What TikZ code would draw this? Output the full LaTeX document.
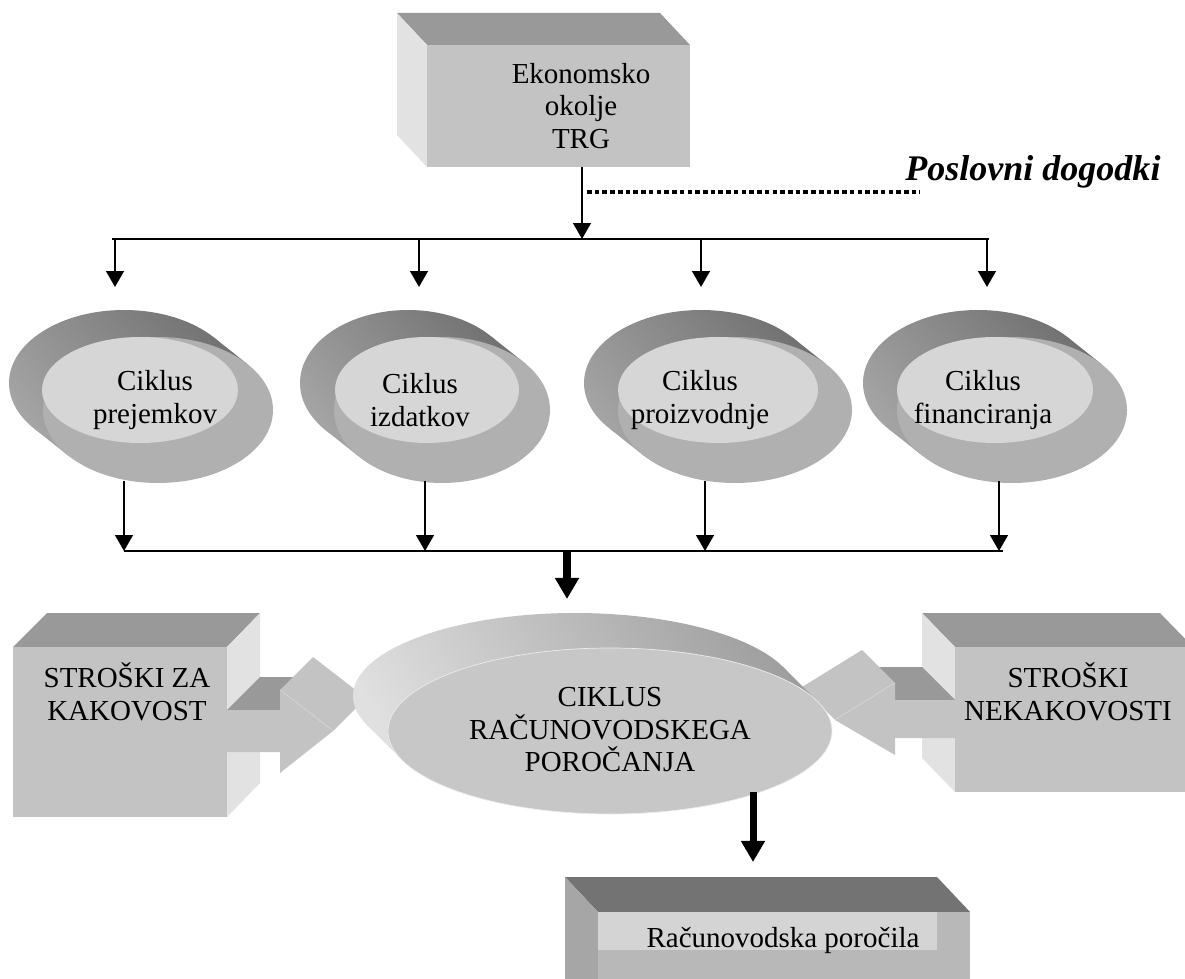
\documentclass[tikz,border=0pt]{standalone}
\usepackage{fontspec}
\setmainfont{Liberation Serif}
\usetikzlibrary{arrows.meta}

\tikzset{
  lbl/.style={align=center, inner sep=0pt, font=\fontsize{16.5}{18.5}\selectfont},
  conn/.style={line width=1.2pt, -{Triangle[width=10pt,length=9pt]}},
  bigconn/.style={line width=4pt, -{Triangle[width=13pt,length=12pt]}},
  dotline/.style={line width=2pt, dash pattern=on 2.6pt off 1.8pt},
  ovalside/.style 2 args={path picture={\shade[bottom color=ovlight, top color=ovdark, shading angle=-50] #1 rectangle #2;}},
  repside/.style 2 args={path picture={\shade[bottom color=rplight, top color=rpdark, shading angle=-60] #1 rectangle #2;}},
}

\begin{document}
\begin{tikzpicture}[x=0.02cm, y=-0.02cm]
    % colours %
    \definecolor{boxfront}{gray}{0.765}
    \definecolor{boxtop}{gray}{0.6}
    \definecolor{boxside}{gray}{0.885}
    \definecolor{ovdark}{gray}{0.42}
    \definecolor{ovlight}{gray}{0.66}
    \definecolor{ovface}{gray}{0.69}
    \definecolor{ovhigh}{gray}{0.84}
    \definecolor{rpdark}{gray}{0.62}
    \definecolor{rplight}{gray}{0.88}
    \definecolor{rpface}{gray}{0.78}
    \useasboundingbox (0,0) rectangle (1185,979);

    % economic environment box %
    \fill[boxtop] (427,45) -- (397,13) -- (660,13) -- (690,45) -- cycle;
    \fill[boxside] (427,45) -- (397,13) -- (397,135) -- (427,167) -- cycle;
    \fill[boxfront] (427,45) rectangle (690,167);
    \node[lbl] (trg) at (581,106) {Ekonomsko\\okolje\\TRG};

    % business events %
    \coordinate (trgout) at (582,167);
    \coordinate (busin) at (582,239);
    \coordinate (busL) at (112,239);
    \coordinate (busR) at (989,239);
    \coordinate (dotL) at (587,192);
    \coordinate (dotR) at (920,192);
    \draw[conn] (trgout) -- (busin);
    \draw[line width=1.2pt] (busL) -- (busR);
    \draw[dotline] (dotL) -- (dotR);
    \node[anchor=west, inner sep=0pt, font=\fontsize{20.5}{22}\selectfont\bfseries\itshape] (events) at (905,172) {Poslovni dogodki};

    % four cycles %
    \path[ovalside={(0,300)}{(290,490)}] (124,383) ellipse [x radius=115, y radius=73];
    \path[ovalside={(0,300)}{(290,490)}] (158,410) ++(-39:115 and 73) -- ++(-34,-27) -- ++(141:230 and 146) -- ++(34,27) -- cycle;
    \fill[ovface] (158,410) ellipse [x radius=115, y radius=73];
    \fill[ovhigh] (140,390) ellipse [x radius=98, y radius=53];

    \path[ovalside={(295,300)}{(560,490)}] (408,383) ellipse [x radius=108, y radius=73];
    \path[ovalside={(295,300)}{(560,490)}] (442,410) ++(-39:108 and 73) -- ++(-34,-27) -- ++(141:216 and 146) -- ++(34,27) -- cycle;
    \fill[ovface] (442,410) ellipse [x radius=108, y radius=73];
    \fill[ovhigh] (427,390) ellipse [x radius=92, y radius=53];

    \path[ovalside={(575,300)}{(860,490)}] (701,383) ellipse [x radius=117, y radius=73];
    \path[ovalside={(575,300)}{(860,490)}] (735,410) ++(-39:117 and 73) -- ++(-34,-27) -- ++(141:234 and 146) -- ++(34,27) -- cycle;
    \fill[ovface] (735,410) ellipse [x radius=117, y radius=73];
    \fill[ovhigh] (718,390) ellipse [x radius=100, y radius=53];

    \path[ovalside={(855,300)}{(1135,490)}] (978,383) ellipse [x radius=115, y radius=73];
    \path[ovalside={(855,300)}{(1135,490)}] (1012,410) ++(-39:115 and 73) -- ++(-34,-27) -- ++(141:230 and 146) -- ++(34,27) -- cycle;
    \fill[ovface] (1012,410) ellipse [x radius=115, y radius=73];
    \fill[ovhigh] (995,390) ellipse [x radius=98, y radius=53];

    \node[lbl] (receipts) at (155,400) {Ciklus\\prejemkov};
    \node[lbl] (expenses) at (420,400) {Ciklus\\izdatkov};
    \node[lbl] (production) at (700,400) {Ciklus\\proizvodnje};
    \node[lbl] (financing) at (983,400) {Ciklus\\financiranja};

    % arrows into the cycles %
    \coordinate (tap1) at (115,239);  \coordinate (in1) at (115,287);
    \coordinate (tap2) at (419,239);  \coordinate (in2) at (419,287);
    \coordinate (tap3) at (701,239);  \coordinate (in3) at (701,287);
    \coordinate (tap4) at (987,239);  \coordinate (in4) at (987,287);
    \draw[conn] (tap1) -- (in1);
    \draw[conn] (tap2) -- (in2);
    \draw[conn] (tap3) -- (in3);
    \draw[conn] (tap4) -- (in4);

    % arrows out of the cycles %
    \coordinate (out1) at (124,481);  \coordinate (join1) at (124,551);
    \coordinate (out2) at (425,481);  \coordinate (join2) at (425,551);
    \coordinate (out3) at (705,481);  \coordinate (join3) at (705,551);
    \coordinate (out4) at (999,481);  \coordinate (join4) at (999,551);
    \coordinate (joinL) at (124,551);
    \coordinate (joinR) at (1003,551);
    \draw[conn] (out1) -- (join1);
    \draw[conn] (out2) -- (join2);
    \draw[conn] (out3) -- (join3);
    \draw[conn] (out4) -- (join4);
    \draw[line width=1.2pt] (joinL) -- (joinR);

    % cost of quality %
    \fill[boxtop] (13,647) -- (47,613) -- (260,613) -- (227,647) -- cycle;
    \fill[boxside] (227,647) -- (260,613) -- (260,783) -- (227,817) -- cycle;
    \fill[boxfront] (13,647) rectangle (227,817);
    \node[lbl] (quality) at (127,692) {STROŠKI ZA\\KAKOVOST};
    \fill[boxtop] (227,710) -- (260,677) -- (313,677) -- (280,710) -- cycle;
    \fill[boxfront] (280,690) -- (313,657) -- (366,698) -- (333,731) -- cycle;
    \draw[white!85!gray, thin] (280,690) -- (333,731);
    \fill[boxfront] (227,710) -- (280,710) -- (280,690) -- (333,731) -- (280,773) -- (280,752) -- (227,752) -- cycle;

    % cost of non-quality %
    \fill[boxtop] (955,647) -- (922,613) -- (1160,613) -- (1193,647) -- cycle;
    \fill[boxside] (955,647) -- (922,613) -- (922,758) -- (955,792) -- cycle;
    \fill[boxfront] (955,647) rectangle (1190,792);
    \node[lbl] (nonquality) at (1068,692) {STROŠKI\\NEKAKOVOSTI};
    \fill[boxtop] (955,700) -- (895,700) -- (862,667) -- (922,667) -- cycle;
    \fill[boxfront] (895,683) -- (862,650) -- (802,687) -- (835,720) -- cycle;
    \draw[white!85!gray, thin] (895,683) -- (835,720);
    \fill[boxfront] (955,700) -- (895,700) -- (895,683) -- (835,720) -- (895,755) -- (895,738) -- (955,738) -- cycle;

    % accounting report cycle %
    \path[repside={(350,610)}{(835,820)}] (575,696) ellipse [x radius=222, y radius=83];
    \path[repside={(350,610)}{(835,820)}] (610,731) ++(-20.5:222 and 83) -- ++(-35,-35) -- ++(159.5:444 and 166) -- ++(35,35) -- cycle;
    \fill[rpface] (610,731) ellipse [x radius=222, y radius=83];
    \draw[white!85!gray, thin] (610,731) ellipse [x radius=222, y radius=83];
    \node[lbl] (reporting) at (610,730) {CIKLUS\\RAČUNOVODSKEGA\\POROČANJA};

    \coordinate (joinmid) at (567,551);
    \coordinate (rpin) at (567,599);
    \draw[bigconn] (joinmid) -- (rpin);

    % accounting reports %
    \coordinate (rpout) at (753,792);
    \coordinate (repin) at (753,862);
    \draw[bigconn] (rpout) -- (repin);
    \fill[white!45!black] (565,877) -- (937,877) -- (970,912) -- (598,912) -- cycle;
    \fill[white!65!black] (565,877) -- (598,912) -- (598,979) -- (565,979) -- cycle;
    \fill[white!72!black] (598,912) rectangle (970,979);
    \fill[white!83!black] (598,912) rectangle (937,950);
    \node[lbl] (reports) at (783,940) {Računovodska poročila};
\end{tikzpicture}
\end{document}
